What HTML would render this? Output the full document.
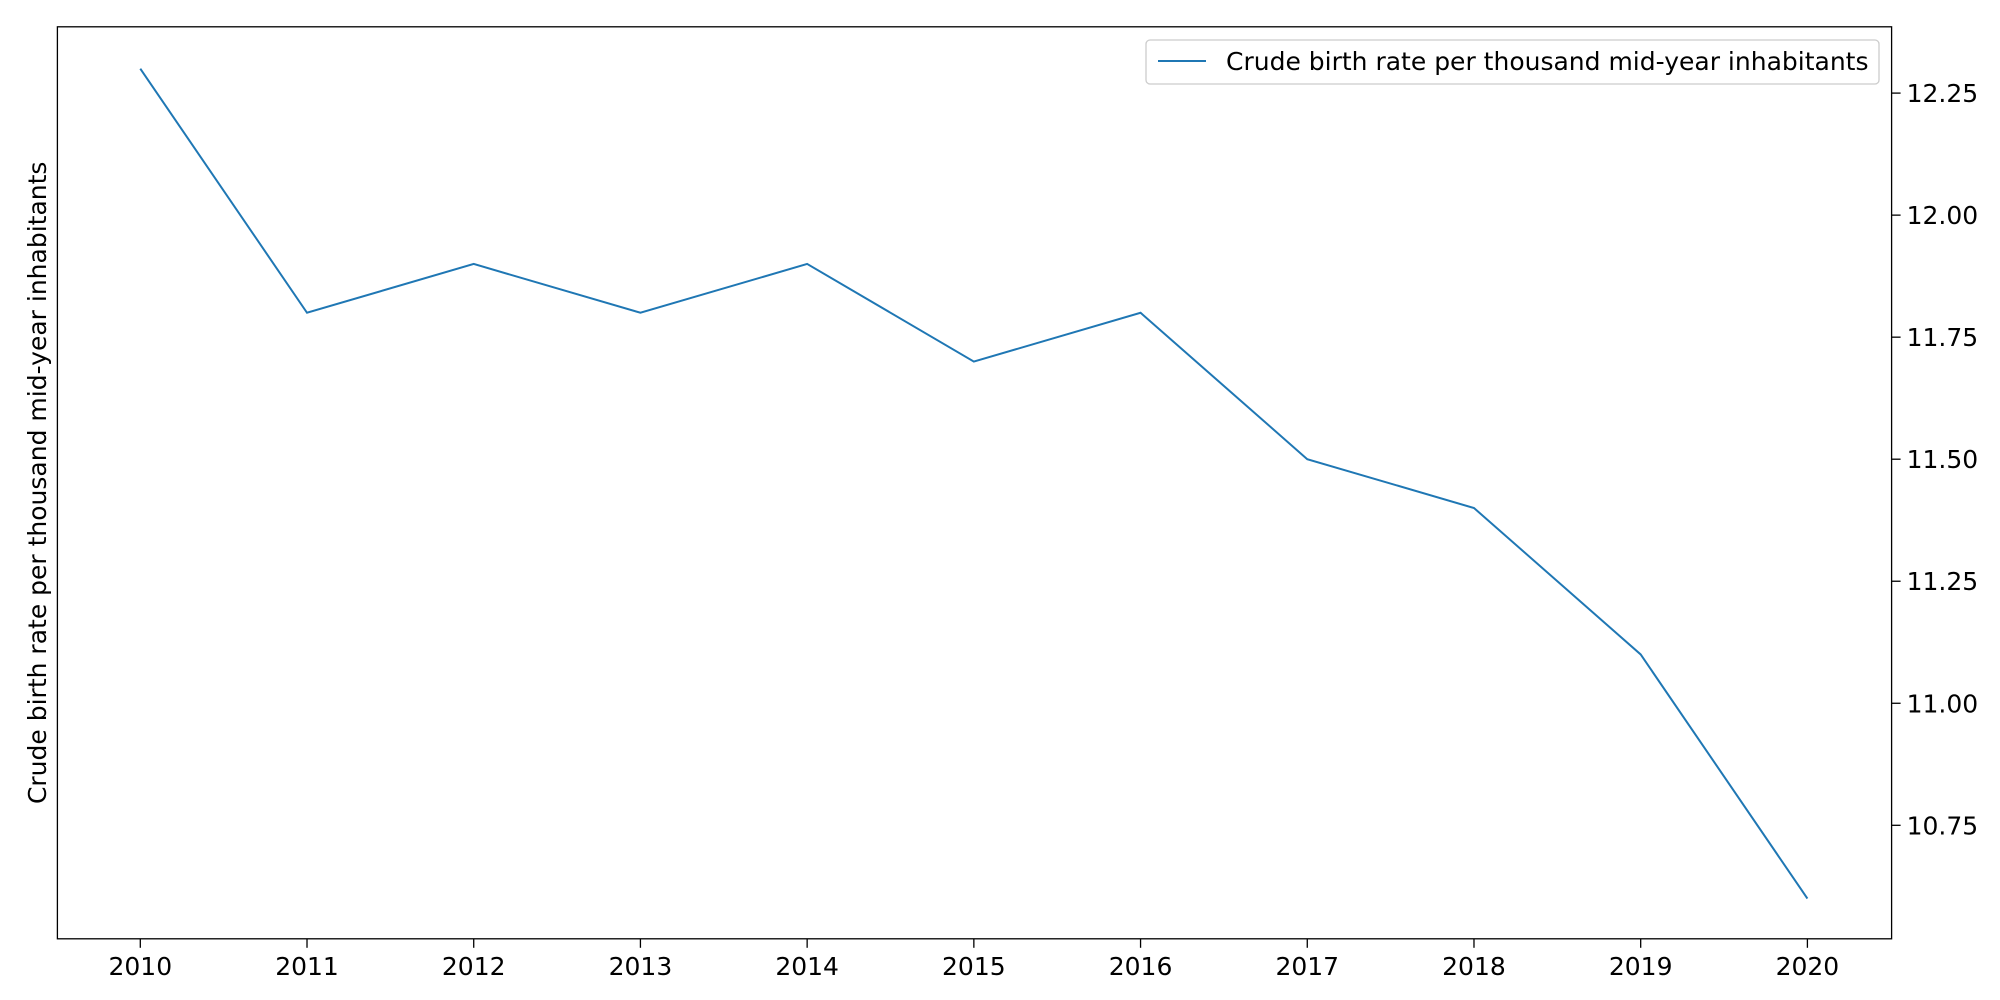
<!DOCTYPE html>
<html><head><meta charset="utf-8"><style>
html,body{margin:0;padding:0;background:#fff;}
svg{display:block;font-family:"DejaVu Sans","Liberation Sans",sans-serif;}
</style></head><body>
<svg id="chart" width="2000" height="1000"></svg>
<script>
const years = [2010,2011,2012,2013,2014,2015,2016,2017,2018,2019,2020];
const birthRates = [12.3,11.8,11.9,11.8,11.9,11.7,11.8,11.5,11.4,11.1,10.6];
const yTicks = [10.75,11.00,11.25,11.50,11.75,12.00,12.25];
const yTickLabels = ["10.75","11.00","11.25","11.50","11.75","12.00","12.25"];
const seriesLabel = "Crude birth rate per thousand mid-year inhabitants";

const NS="http://www.w3.org/2000/svg";
const svg=document.getElementById('chart');
const L=57.4,R=1891.6,T=26.8,B=938.8;
const FS=25;
function xs(v){return 140.3+(v-2010)*(1807.4-140.3)/10;}
function ys(v){return 93.1+(12.25-v)*(825.3-93.1)/1.5;}
function mk(tag,attrs,parent){const e=document.createElementNS(NS,tag);for(const k in attrs)e.setAttribute(k,attrs[k]);(parent||svg).appendChild(e);return e;}

const frame=mk('rect',{x:L,y:T,width:R-L,height:B-T,fill:'none',stroke:'#000','stroke-width':1.3});



years.forEach(y=>{
  const x=xs(y);
  const t=mk('line',{x1:x,x2:x,y1:B,y2:B+9,stroke:'#000','stroke-width':1.3});
  
  
  const lb=mk('text',{x:x,y:B+36,'text-anchor':'middle','font-size':FS,fill:'#000'});
  lb.textContent=String(y);
  
  
});
yTicks.forEach((v,i)=>{
  const y=ys(v);
  const t=mk('line',{x1:R,x2:R+9,y1:y,y2:y,stroke:'#000','stroke-width':1.3});
  
  
  const lb=mk('text',{x:R+15,y:y+9,'text-anchor':'start','font-size':FS,fill:'#000'});
  lb.textContent=yTickLabels[i];
  
  
});
const yt=mk('text',{x:0,y:0,'text-anchor':'middle','font-size':FS,fill:'#000',transform:`translate(46,${(T+B)/2}) rotate(-90)`});
yt.textContent=seriesLabel;



const pts=years.map((y,i)=>xs(y)+','+ys(birthRates[i])).join(' ');
const pl=mk('polyline',{points:pts,fill:'none',stroke:'#1f77b4','stroke-width':2});



const lg=mk('g',{});


mk('rect',{x:1146,y:40,width:733,height:44,rx:4,fill:'#fff',stroke:'#ccc','stroke-width':1.3},lg);
const ll=mk('line',{x1:1158,x2:1206,y1:61,y2:61,stroke:'#1f77b4','stroke-width':2},lg);


const lt=mk('text',{x:1226,y:70,'font-size':FS,fill:'#000'},lg);
lt.textContent=seriesLabel;


</script>
</body></html>
